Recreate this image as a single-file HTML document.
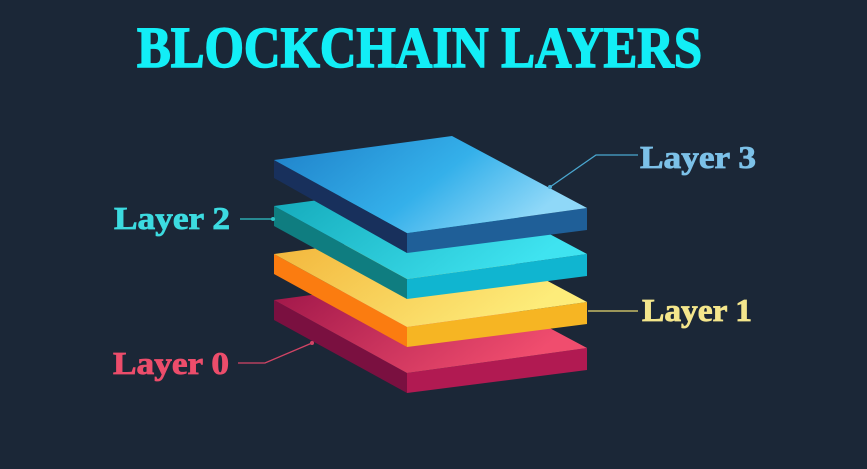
<!DOCTYPE html>
<html><head><meta charset="utf-8"><style>
html,body{margin:0;padding:0;background:#1b2737;}
svg{display:block}
text{font-family:"Liberation Serif",serif;font-weight:bold;}
</style></head><body>
<svg width="867" height="469" viewBox="0 0 867 469" xmlns="http://www.w3.org/2000/svg">
<defs>
<linearGradient id="gB" x1="0" y1="0" x2="1" y2="0.4"><stop offset="0" stop-color="#1e7fc8"/><stop offset="0.6" stop-color="#34b0ea"/><stop offset="1" stop-color="#8fd8f8"/></linearGradient>
<linearGradient id="gT" x1="0" y1="0" x2="1" y2="0.4"><stop offset="0" stop-color="#12a7b8"/><stop offset="1" stop-color="#3fe3f0"/></linearGradient>
<linearGradient id="gY" x1="0" y1="0" x2="1" y2="0.4"><stop offset="0" stop-color="#f2b338"/><stop offset="1" stop-color="#fdec7a"/></linearGradient>
<linearGradient id="gM" x1="0" y1="0" x2="1" y2="0.4"><stop offset="0" stop-color="#9c1448"/><stop offset="1" stop-color="#f04d6e"/></linearGradient>
</defs>
<rect width="867" height="469" fill="#1b2737"/>
<text x="137" y="67" font-size="58" fill="#12eef6" stroke="#12eef6" stroke-width="1.6" textLength="565" lengthAdjust="spacingAndGlyphs">BLOCKCHAIN LAYERS</text>

<g transform="translate(0,140)">
<polygon points="274,160 407,233 407,253 274,180" fill="#7a1040"/>
<polygon points="407,233 587,208 587,230 407,253" fill="#b11a52"/>
<polygon points="274,160 452,136 587,208 407,233" fill="url(#gM)"/>
</g>
<g transform="translate(0,94)">
<polygon points="274,160 407,233 407,253 274,180" fill="#fb7c10"/>
<polygon points="407,233 587,208 587,230 407,253" fill="#f6b523"/>
<polygon points="274,160 452,136 587,208 407,233" fill="url(#gY)"/>
</g>
<g transform="translate(0,46)">
<polygon points="274,160 407,233 407,253 274,180" fill="#0f7d80"/>
<polygon points="407,233 587,208 587,230 407,253" fill="#10b5d0"/>
<polygon points="274,160 452,136 587,208 407,233" fill="url(#gT)"/>
</g>
<polygon points="274,160 407,233 407,253 274,178" fill="#18305c"/>
<polygon points="407,233 587,208 587,230 407,253" fill="#1f5f98"/>
<polygon points="274,160 452,136 587,208 407,233" fill="url(#gB)"/>

<polyline points="638,155 596,155 550,187" fill="none" stroke="#4aa7d0" stroke-width="1.3"/>
<circle cx="550" cy="187" r="2" fill="#4aa7d0"/>
<line x1="240" y1="219" x2="273" y2="219" stroke="#2fc4c8" stroke-width="1.3"/>
<circle cx="273" cy="219" r="2" fill="#2fc4c8"/>
<line x1="638" y1="311" x2="588" y2="311" stroke="#e8d870" stroke-width="1.3"/>
<polyline points="238,363 265,363 312,343" fill="none" stroke="#d24465" stroke-width="1.3"/>
<circle cx="312" cy="343" r="2" fill="#d24465"/>

<text x="640" y="168" font-size="32" fill="#7cc1e8" stroke="#7cc1e8" stroke-width="0.8" textLength="116" lengthAdjust="spacingAndGlyphs">Layer 3</text>
<text x="114" y="229" font-size="32" fill="#3cdbe0" stroke="#3cdbe0" stroke-width="0.8" textLength="116" lengthAdjust="spacingAndGlyphs">Layer 2</text>
<text x="642" y="321" font-size="32" fill="#f4e68c" stroke="#f4e68c" stroke-width="0.8" textLength="110" lengthAdjust="spacingAndGlyphs">Layer 1</text>
<text x="113" y="374" font-size="32" fill="#ec4d6b" stroke="#ec4d6b" stroke-width="0.8" textLength="116" lengthAdjust="spacingAndGlyphs">Layer 0</text>
</svg>
</body></html>
